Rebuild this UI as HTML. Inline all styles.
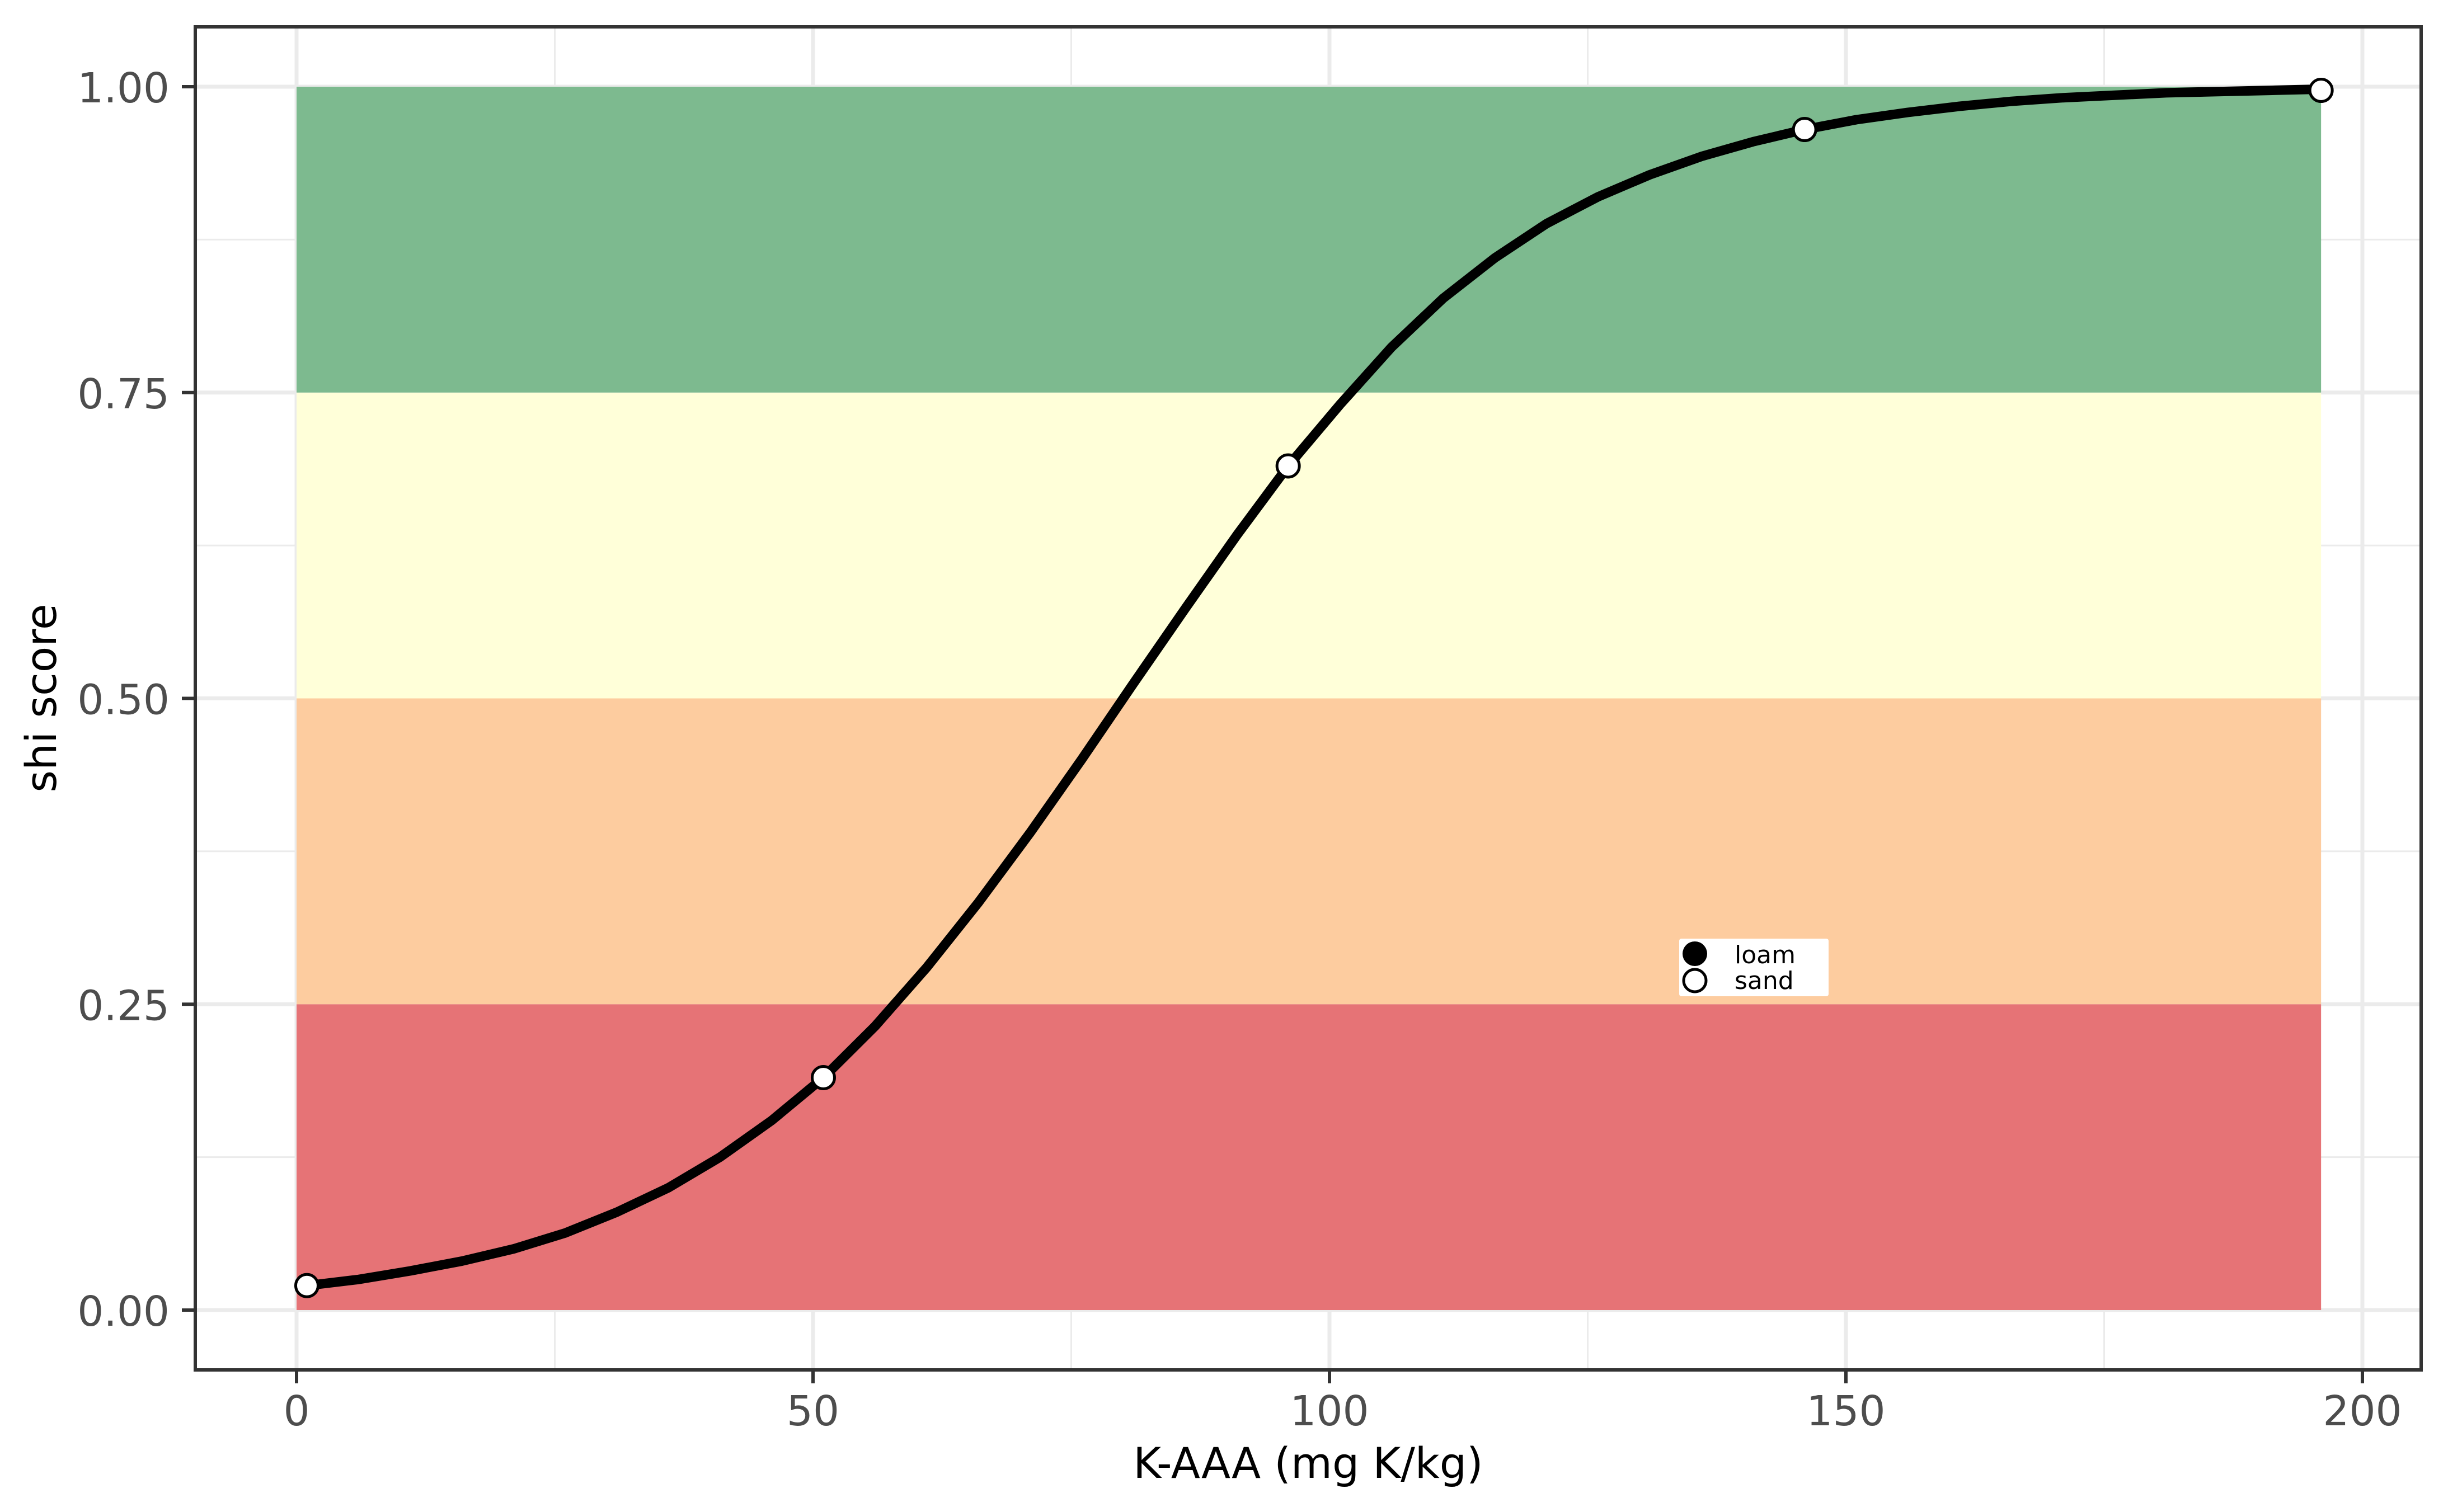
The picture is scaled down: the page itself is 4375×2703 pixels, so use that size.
<!DOCTYPE html>
<html><head><meta charset="utf-8"><style>
body{margin:0;background:#fff}
svg{display:block;font-family:"DejaVu Sans","Liberation Sans",sans-serif}
</style></head><body>
<svg id="chart" width="4375" height="2703" viewBox="0 0 4375 2703">
<rect x="0" y="0" width="4375" height="2703" fill="#fff"/>
<g id="grid"></g>
<g id="bands"></g>
<g id="series"></g>
<rect x="349" y="48" width="3978" height="2401" fill="none" stroke="#333" stroke-width="6"/>
<g id="axes"></g>
<text x="2338" y="2642" font-size="76" text-anchor="middle" fill="#000">K-AAA (mg K/kg)</text>
<text transform="translate(100,1248) rotate(-90)" font-size="76" text-anchor="middle" fill="#000">shi score</text>
<g>
<rect x="3001" y="1678" width="267" height="103" rx="4" fill="#fff"/>
<circle cx="3029" cy="1705" r="22" fill="#000"/>
<circle cx="3029" cy="1753" r="20" fill="#fff" stroke="#000" stroke-width="5"/>
<text x="3100" y="1722" font-size="44" fill="#000">loam</text>
<text x="3100" y="1768" font-size="44" fill="#000">sand</text>
</g>
</svg>
<script>
const xTicks=[0,50,100,150,200];
const xMinor=[25,75,125,175];
const yTicks=[0,0.25,0.5,0.75,1];
const yTickLabels=["0.00","0.25","0.50","0.75","1.00"];
const yMinor=[0.125,0.375,0.625,0.875];
const bandLower=[0,0.25,0.5,0.75];
const bandUpper=[0.25,0.5,0.75,1];
const bandColors=["#e67376","#fdcc9f","#ffffd9","#7dba8f"];
const bandXMin=0, bandXMax=196;
const curveX=[1,6,11,16,21,26,31,36,41,46,51,56,61,66,71,76,81,86,91,96,101,106,111,116,121,126,131,136,141,146,151,156,161,166,171,176,181,186,191,196];
const curveY=[0.02,0.025,0.032,0.04,0.05,0.063,0.08,0.1,0.125,0.155,0.19,0.232,0.28,0.333,0.39,0.45,0.512,0.573,0.633,0.69,0.74,0.787,0.827,0.86,0.888,0.91,0.928,0.943,0.955,0.965,0.973,0.979,0.984,0.988,0.991,0.993,0.995,0.996,0.997,0.998];
const pointX=[1,51,96,146,196];
const pointY=[0.02,0.19,0.69,0.965,0.997];

const NS="http://www.w3.org/2000/svg";
const X0=349,X1=4327,Y0=48,Y1=2449;
const sx=v=>530+v*(4222-530)/200;
const sy=v=>2342-v*(2342-155);
function mk(tag,attrs,parent){const e=document.createElementNS(NS,tag);for(const k in attrs)e.setAttribute(k,attrs[k]);parent.appendChild(e);return e;}
const grid=document.getElementById('grid'),bands=document.getElementById('bands'),series=document.getElementById('series'),axes=document.getElementById('axes');
xMinor.forEach(v=>{const l=mk('line',{x1:sx(v),x2:sx(v),y1:Y0,y2:Y1,stroke:'#ebebeb','stroke-width':3},grid);

});
yMinor.forEach(v=>{const l=mk('line',{x1:X0,x2:X1,y1:sy(v),y2:sy(v),stroke:'#ebebeb','stroke-width':3},grid);

});
xTicks.forEach(v=>{const l=mk('line',{x1:sx(v),x2:sx(v),y1:Y0,y2:Y1,stroke:'#ebebeb','stroke-width':7},grid);

});
yTicks.forEach(v=>{const l=mk('line',{x1:X0,x2:X1,y1:sy(v),y2:sy(v),stroke:'#ebebeb','stroke-width':7},grid);

});
bandLower.forEach((lo,i)=>{const r=mk('rect',{x:sx(bandXMin),y:sy(bandUpper[i]),width:sx(bandXMax)-sx(bandXMin),height:sy(lo)-sy(bandUpper[i]),fill:bandColors[i]},bands);

});
const d=curveX.map((x,i)=>(i?'L':'M')+sx(x).toFixed(1)+','+sy(curveY[i]).toFixed(1)).join(' ');
const p=mk('path',{d:d,fill:'none',stroke:'#000','stroke-width':17,'stroke-linejoin':'round'},series);


pointX.forEach((x,i)=>{const c=mk('circle',{cx:sx(x),cy:sy(pointY[i]),r:20,fill:'#fff',stroke:'#000','stroke-width':5},series);

});
xTicks.forEach(v=>{const t=mk('line',{x1:sx(v),x2:sx(v),y1:Y1,y2:Y1+24,stroke:'#333','stroke-width':6},axes);


const s=mk('text',{x:sx(v),y:2548,'font-size':74,'text-anchor':'middle',fill:'#4d4d4d'},axes);s.textContent=v;

});
yTicks.forEach((v,i)=>{const t=mk('line',{x1:X0-24,x2:X0,y1:sy(v),y2:sy(v),stroke:'#333','stroke-width':6},axes);


const s=mk('text',{x:303,y:sy(v)+28,'font-size':74,'text-anchor':'end',fill:'#4d4d4d'},axes);s.textContent=yTickLabels[i];

});
</script>
</body></html>
